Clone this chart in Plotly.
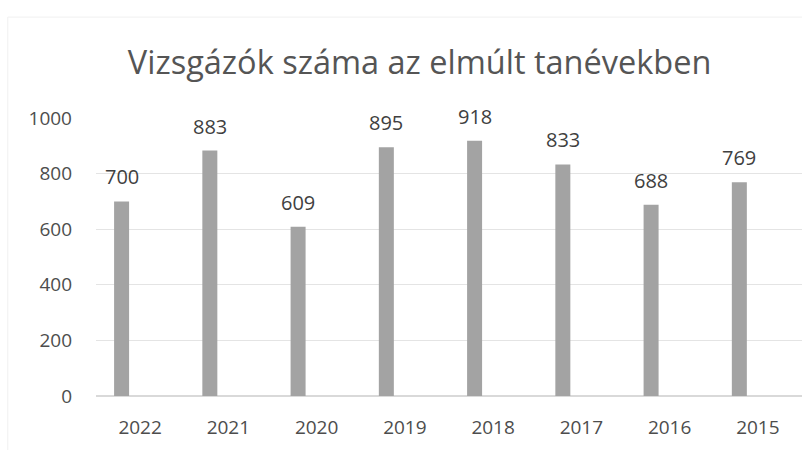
import plotly.graph_objects as go

years = ["2022", "2021", "2020", "2019", "2018", "2017", "2016", "2015"]
counts = [700, 883, 609, 895, 918, 833, 688, 769]
y_ticks = [0, 200, 400, 600, 800, 1000]
title_text = "Vizsgázók száma az elmúlt tanévekben"

BAR_W = 0.17
BAR_OFF = -0.295

fig = go.Figure()
fig.add_trace(go.Bar(
    x=years, y=counts,
    width=BAR_W, offset=BAR_OFF,
    marker=dict(color="#a3a3a3", line=dict(width=0)),
    hoverinfo="x+y",
))

for i, v in enumerate(counts):
    fig.add_annotation(
        x=i + BAR_OFF + BAR_W / 2, y=v, xref="x", yref="y",
        text=str(v), showarrow=False, yanchor="bottom", yshift=9,
        font=dict(family="Open Sans", size=20, color="#404040"),
    )

# faint frame of the chart area (top and left edges)
fig.add_shape(type="line", xref="paper", yref="paper", x0=-0.125, x1=1.0, y0=1.363, y1=1.363,
              line=dict(color="#f0f0f0", width=1))
fig.add_shape(type="line", xref="paper", yref="paper", x0=-0.125, x1=-0.125, y0=-0.2, y1=1.363,
              line=dict(color="#f0f0f0", width=1))

fig.update_layout(
    width=807, height=450,
    margin=dict(l=96, r=5, t=118, b=54),
    paper_bgcolor="white", plot_bgcolor="white",
    showlegend=False,
    title=dict(text=title_text, x=0.52, xanchor="center", y=0.86, yanchor="middle",
               xref="container", yref="container",
               font=dict(family="Open Sans", size=32.5, color="#555555")),
    xaxis=dict(type="category", showgrid=False, showline=False, ticks="",
               range=[-0.5, len(years) - 0.5],
               tickfont=dict(family="Open Sans", size=19, color="#4d4d4d"), ticklabelstandoff=18),
    yaxis=dict(range=[0, 1000], tickvals=y_ticks, showgrid=True, gridcolor="#e4e4e4", gridwidth=1,
               zeroline=True, zerolinecolor="#d9d9d9", showline=False, ticks="",
               tickfont=dict(family="Open Sans", size=19, color="#4d4d4d"), ticklabelstandoff=23),
)
fig.write_html("out.html", config={"displayModeBar": False},
               post_script="document.body.style.margin='0';document.body.style.padding='0';")
